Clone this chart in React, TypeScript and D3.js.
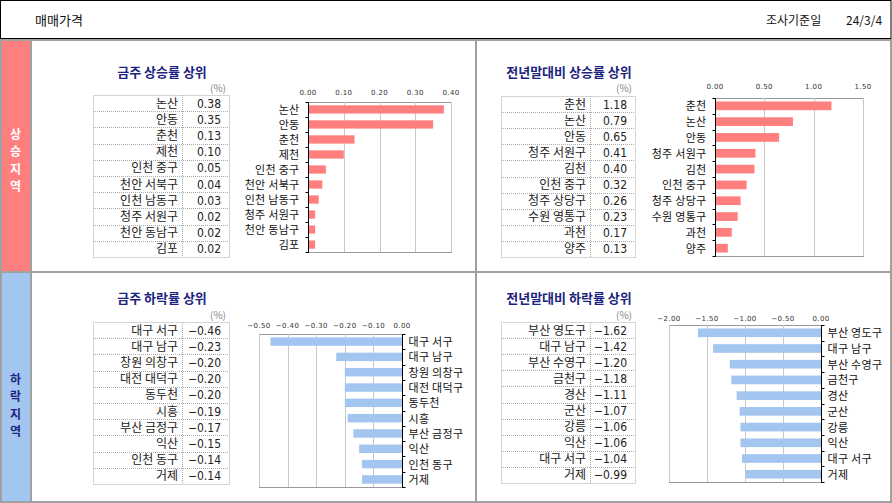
// @ts-nocheck
import React, { useEffect, useRef } from "react";
import * as d3 from "d3";

// 금주 상승률 상위
const weekUpNames = ["논산", "안동", "춘천", "제천", "인천 중구", "천안 서북구", "인천 남동구", "청주 서원구", "천안 동남구", "김포"];
const weekUpValues = [0.38, 0.35, 0.13, 0.1, 0.05, 0.04, 0.03, 0.02, 0.02, 0.02];
const weekUpTicks = [0, 0.1, 0.2, 0.3, 0.4];

// 전년말대비 상승률 상위
const yearUpNames = ["춘천", "논산", "안동", "청주 서원구", "김천", "인천 중구", "청주 상당구", "수원 영통구", "과천", "양주"];
const yearUpValues = [1.18, 0.79, 0.65, 0.41, 0.4, 0.32, 0.26, 0.23, 0.17, 0.13];
const yearUpTicks = [0, 0.5, 1.0, 1.5];

// 금주 하락률 상위
const weekDownNames = ["대구 서구", "대구 남구", "창원 의창구", "대전 대덕구", "동두천", "시흥", "부산 금정구", "익산", "인천 동구", "거제"];
const weekDownValues = [-0.46, -0.23, -0.2, -0.2, -0.2, -0.19, -0.17, -0.15, -0.14, -0.14];
const weekDownTicks = [-0.5, -0.4, -0.3, -0.2, -0.1, 0];

// 전년말대비 하락률 상위
const yearDownNames = ["부산 영도구", "대구 남구", "부산 수영구", "금천구", "경산", "군산", "강릉", "익산", "대구 서구", "거제"];
const yearDownValues = [-1.62, -1.42, -1.2, -1.18, -1.11, -1.07, -1.06, -1.06, -1.04, -0.99];
const yearDownTicks = [-2, -1.5, -1.0, -0.5, 0];

const W = 892;
const H = 503;
const KR = "'Noto Sans CJK KR', 'Noto Sans', sans-serif";
const RED = "#ff7f7f";
const BLUE = "#a3c6f0";
const NAVY = "#1c2480";
const FRAME = "#a0a0a0";

const panels = [
  {
    title: "금주 상승률 상위", names: weekUpNames, values: weekUpValues, ticks: weekUpTicks, color: RED,
    titleX: 162, titleY: 77, pctY: 92,
    table: { x: 93, y: 95, w: 136, h: 162, split: 182 },
    chart: { x0: 308, x1: 451, top: 102, bottom: 252, tickY: 95 },
  },
  {
    title: "전년말대비 상승률 상위", names: yearUpNames, values: yearUpValues, ticks: yearUpTicks, color: RED,
    titleX: 569, titleY: 77, pctY: 92,
    table: { x: 501, y: 96, w: 134, h: 161, split: 590 },
    chart: { x0: 715, x1: 863, top: 98, bottom: 256, tickY: 89 },
  },
  {
    title: "금주 하락률 상위", names: weekDownNames, values: weekDownValues, ticks: weekDownTicks, color: BLUE,
    titleX: 162, titleY: 303, pctY: 319,
    table: { x: 93, y: 322, w: 136, h: 162, split: 182 },
    chart: { x0: 259, x1: 402, top: 334, bottom: 487, tickY: 328 },
  },
  {
    title: "전년말대비 하락률 상위", names: yearDownNames, values: yearDownValues, ticks: yearDownTicks, color: BLUE,
    titleX: 569, titleY: 303, pctY: 319,
    table: { x: 501, y: 322, w: 134, h: 161, split: 590 },
    chart: { x0: 669, x1: 821, top: 325, bottom: 482, tickY: 321 },
  },
];

function drawPanel(svg, p) {
  const g = svg.append("g");
  const negative = p.values[0] < 0;

  g.append("text")
    .attr("x", p.titleX).attr("y", p.titleY)
    .attr("text-anchor", "middle")
    .attr("font-family", KR).attr("font-size", 13).attr("font-weight", "bold")
    .attr("fill", NAVY)
    .text(p.title);

  const t = p.table;
  g.append("text")
    .attr("x", t.x + t.w - 3).attr("y", p.pctY)
    .attr("text-anchor", "end")
    .attr("font-family", KR).attr("font-size", 10).attr("fill", "#888")
    .text("(%)");

  // table
  const row = d3.scaleBand().domain(d3.range(p.names.length)).range([t.y, t.y + t.h]);
  const dash = "1,1";
  const tab = g.append("g");
  tab.append("rect").attr("x", t.x + 0.5).attr("y", t.y + 0.5).attr("width", t.w).attr("height", t.h)
    .attr("fill", "none").attr("stroke", "#aaa").attr("stroke-dasharray", dash);
  tab.append("line").attr("x1", t.split + 0.5).attr("x2", t.split + 0.5).attr("y1", t.y).attr("y2", t.y + t.h)
    .attr("stroke", "#aaa").attr("stroke-dasharray", dash);
  tab.selectAll("line.row").data(d3.range(1, p.names.length)).join("line")
    .attr("class", "row")
    .attr("x1", t.x).attr("x2", t.x + t.w)
    .attr("y1", (i) => Math.round(row(i)) + 0.5).attr("y2", (i) => Math.round(row(i)) + 0.5)
    .attr("stroke", "#aaa").attr("stroke-dasharray", dash);
  tab.selectAll("text.name").data(p.names).join("text")
    .attr("class", "name")
    .attr("x", t.split - 4).attr("y", (d, i) => row(i) + row.bandwidth() / 2 + 4.5)
    .attr("text-anchor", "end").attr("font-family", KR).attr("font-size", 12).attr("fill", "#222")
    .text((d) => d);
  tab.selectAll("text.val").data(p.values).join("text")
    .attr("class", "val")
    .attr("x", t.x + t.w - 8).attr("y", (d, i) => row(i) + row.bandwidth() / 2 + 4.5)
    .attr("text-anchor", "end").attr("font-family", "'Liberation Sans Narrow', 'DejaVu Sans Condensed', sans-serif")
    .attr("font-size", 12).attr("fill", "#222")
    .text((d) => (d < 0 ? "−" : "") + Math.abs(d).toFixed(2));

  // chart
  const c = p.chart;
  const x = d3.scaleLinear().domain(d3.extent(p.ticks)).range([c.x0, c.x1]);
  const y = d3.scaleBand().domain(p.names).range([c.top, c.bottom]).paddingInner(0.45).paddingOuter(0.22);
  const band = d3.scaleBand().domain(p.names).range([c.top, c.bottom]);

  const ch = g.append("g");
  ch.append("rect").attr("x", c.x0 + 0.5).attr("y", c.top + 0.5).attr("width", c.x1 - c.x0).attr("height", c.bottom - c.top)
    .attr("fill", "#fff").attr("stroke", "#9a9a9a");
  ch.selectAll("line.grid").data(p.ticks).join("line")
    .attr("class", "grid")
    .attr("x1", (d) => Math.round(x(d)) + 0.5).attr("x2", (d) => Math.round(x(d)) + 0.5)
    .attr("y1", c.top).attr("y2", c.bottom)
    .attr("stroke", "#c8c8c8");

  ch.selectAll("rect.bar").data(p.values).join("rect")
    .attr("class", "bar")
    .attr("x", (d) => x(Math.min(0, d)))
    .attr("width", (d) => Math.abs(x(d) - x(0)))
    .attr("y", (d, i) => y(p.names[i]))
    .attr("height", y.bandwidth())
    .attr("fill", p.color);

  // tick labels on top
  ch.selectAll("text.tick").data(p.ticks).join("text")
    .attr("class", "tick")
    .attr("x", (d) => x(d)).attr("y", c.tickY)
    .attr("text-anchor", "middle")
    .attr("font-family", "'DejaVu Sans', sans-serif").attr("font-size", 7).attr("fill", "#333")
    .attr("letter-spacing", 0.4)
    .text((d) => (d < 0 ? "−" : "") + Math.abs(d).toFixed(2));

  // category axis at zero
  const zx = Math.round(x(0)) + 0.5;
  ch.append("line").attr("x1", zx).attr("x2", zx).attr("y1", c.top).attr("y2", c.bottom + 1)
    .attr("stroke", "#000");
  const dir = negative ? 1 : -1;
  ch.selectAll("line.cat").data(d3.range(p.names.length + 1)).join("line")
    .attr("class", "cat")
    .attr("x1", zx).attr("x2", zx + dir * 3)
    .attr("y1", (i) => Math.round(c.top + i * band.step()) + 0.5)
    .attr("y2", (i) => Math.round(c.top + i * band.step()) + 0.5)
    .attr("stroke", "#000");

  ch.selectAll("text.cat").data(p.names).join("text")
    .attr("class", "cat")
    .attr("x", negative ? zx + 6 : zx - 9)
    .attr("y", (d) => band(d) + band.bandwidth() / 2 + 4.5)
    .attr("text-anchor", negative ? "start" : "end")
    .attr("font-family", KR).attr("font-size", 11).attr("fill", "#111")
    .attr("letter-spacing", 0.3)
    .text((d) => d);
}

const App = () => {
  const ref = useRef();
  useEffect(() => {
    document.body.style.margin = "0";
    const svg = d3.select(ref.current);
    svg.selectAll("*").remove();

    svg.append("rect").attr("width", W).attr("height", H).attr("fill", "#fff");

    // header
    svg.append("rect").attr("x", 0.5).attr("y", 0.5).attr("width", W - 1.5).attr("height", 38)
      .attr("fill", "#fff").attr("stroke", "#000");
    svg.append("text").attr("x", 35).attr("y", 25)
      .attr("font-family", KR).attr("font-size", 13).attr("fill", "#111").text("매매가격");
    svg.append("text").attr("x", 766).attr("y", 25)
      .attr("font-family", KR).attr("font-size", 12).attr("fill", "#111").text("조사기준일");
    svg.append("text").attr("x", 846).attr("y", 25)
      .attr("font-family", KR).attr("font-size", 12).attr("fill", "#111").text("24/3/4");

    // side strips
    svg.append("rect").attr("x", 0).attr("y", 40).attr("width", 31).attr("height", 232).attr("fill", RED);
    svg.append("rect").attr("x", 0).attr("y", 273).attr("width", 31).attr("height", 230).attr("fill", BLUE);
    const stripText = (label, cy, fill) => {
      svg.append("g").selectAll("text").data(label.split("")).join("text")
        .attr("x", 15.5).attr("y", (d, i) => cy + (i - 1.5) * 17.5 + 5)
        .attr("text-anchor", "middle")
        .attr("font-family", KR).attr("font-size", 12).attr("font-weight", "bold").attr("fill", fill)
        .text((d) => d);
    };
    stripText("상승지역", 160, "#fff");
    stripText("하락지역", 405, NAVY);

    // frame lines
    const frame = svg.append("g").attr("stroke", FRAME).attr("stroke-width", 2).attr("fill", "none");
    frame.append("line").attr("x1", 0).attr("x2", W).attr("y1", 40).attr("y2", 40);
    frame.append("line").attr("x1", 0).attr("x2", W).attr("y1", 272).attr("y2", 272);
    frame.append("line").attr("x1", 0).attr("x2", W).attr("y1", 502).attr("y2", 502);
    frame.append("line").attr("x1", 31).attr("x2", 31).attr("y1", 40).attr("y2", H);
    frame.append("line").attr("x1", 476).attr("x2", 476).attr("y1", 40).attr("y2", H);
    frame.append("line").attr("x1", 891).attr("x2", 891).attr("y1", 40).attr("y2", H);
    frame.append("line").attr("x1", 1).attr("x2", 1).attr("y1", 40).attr("y2", H);

    panels.forEach((p) => drawPanel(svg, p));
  }, []);

  return <svg width={W} height={H} ref={ref} style={{ display: "block" }}></svg>;
};

export default App;
